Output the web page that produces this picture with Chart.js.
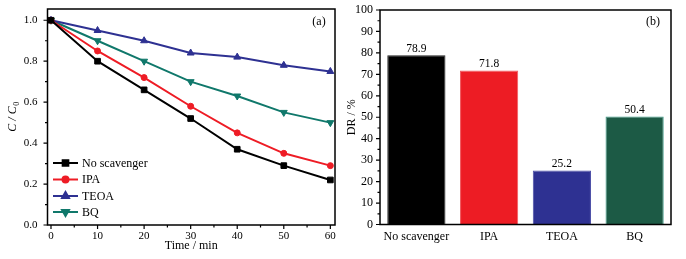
<!DOCTYPE html>
<html>
<head>
<meta charset="utf-8">
<script src="https://cdn.jsdelivr.net/npm/chart.js@4.4.1/dist/chart.umd.min.js"></script>
<style>
  html, body { margin: 0; padding: 0; background: #fff; }
  #wrap { position: relative; width: 686px; height: 259px; overflow: hidden; }
  #lineChart { position: absolute; left: 0; top: 0; }
  #barChart { position: absolute; left: 343px; top: 0; }
</style>
</head>
<body>
<div id="wrap">
  <canvas id="lineChart" width="343" height="259"></canvas>
  <canvas id="barChart" width="343" height="259"></canvas>
</div>
<script>
// panel (a): C/C0 vs time
const timeMin = [0, 10, 20, 30, 40, 50, 60];
const noScavenger = [1.0, 0.80, 0.66, 0.52, 0.37, 0.29, 0.22];
const ipa = [1.0, 0.85, 0.72, 0.58, 0.45, 0.35, 0.29];
const teoa = [1.0, 0.95, 0.90, 0.84, 0.82, 0.78, 0.75];
const bq = [1.0, 0.90, 0.80, 0.70, 0.63, 0.55, 0.50];
const timeTicks = [0, 10, 20, 30, 40, 50, 60];
const timeMinor = [5, 15, 25, 35, 45, 55];
const ratioTicks = [0, 0.2, 0.4, 0.6, 0.8, 1.0];
const ratioMinor = [0.1, 0.3, 0.5, 0.7, 0.9];

// panel (b): degradation rate
const categories = ['No scavenger', 'IPA', 'TEOA', 'BQ'];
const drValues = [78.9, 71.8, 25.2, 50.4];
const drTicks = [0, 10, 20, 30, 40, 50, 60, 70, 80, 90, 100];
const drMinor = [5, 15, 25, 35, 45, 55, 65, 75, 85, 95];

const SERIF = "'Liberation Serif', 'Times New Roman', serif";
Chart.defaults.font.family = SERIF;
Chart.defaults.color = '#000';

const BLACK = '#000000';
const RED = '#ee1c25';
const BLUE = '#2e3192';
const TEAL = '#10786b';

// keep the plot box exactly where layout padding + afterFit put it
function fixWidth(w) {
    return s => { s.width = w; s.paddingTop = 0; s.paddingBottom = 0; };
}
function fixHeight(h) {
    return s => { s.height = h; s.paddingLeft = 0; s.paddingRight = 0; };
}

// frame around the plot + outward major/minor ticks on left and bottom axes
function framePlugin(xMinor, yMinor) {
    return {
        id: 'frame',
        afterDraw(chart) {
            const ctx = chart.ctx;
            const a = chart.chartArea;
            const xs = chart.scales.x;
            const ys = chart.scales.y;
            ctx.save();
            ctx.strokeStyle = '#000';
            ctx.lineWidth = 1.5;
            ctx.strokeRect(a.left, a.top, a.right - a.left, a.bottom - a.top);
            ctx.lineWidth = 1.2;
            ctx.beginPath();
            if (xMinor) {
                xs.ticks.forEach(t => {
                    const px = xs.getPixelForValue(t.value);
                    ctx.moveTo(px, a.bottom);
                    ctx.lineTo(px, a.bottom + 4);
                });
                xMinor.forEach(v => {
                    const px = xs.getPixelForValue(v);
                    ctx.moveTo(px, a.bottom);
                    ctx.lineTo(px, a.bottom + 2.5);
                });
            }
            ys.ticks.forEach(t => {
                const py = ys.getPixelForValue(t.value);
                ctx.moveTo(a.left, py);
                ctx.lineTo(a.left - 4, py);
            });
            yMinor.forEach(v => {
                const py = ys.getPixelForValue(v);
                ctx.moveTo(a.left, py);
                ctx.lineTo(a.left - 2.5, py);
            });
            ctx.stroke();
            ctx.restore();
        }
    };
}

function panelLabel(text, x, y) {
    return {
        id: 'panelLabel',
        afterDraw(chart) {
            const ctx = chart.ctx;
            ctx.save();
            ctx.font = '12px ' + SERIF;
            ctx.fillStyle = '#000';
            ctx.textAlign = 'center';
            ctx.textBaseline = 'middle';
            ctx.fillText(text, x, y);
            ctx.restore();
        }
    };
}

function drawMarker(ctx, ds, x, y) {
    ctx.fillStyle = ds.pointBackgroundColor;
    ctx.strokeStyle = ds.borderColor;
    if (Chart.helpers && Chart.helpers.drawPoint) {
        Chart.helpers.drawPoint(ctx, {
            pointStyle: ds.pointStyle,
            rotation: ds.pointRotation || 0,
            radius: ds.pointRadius,
            borderWidth: 1
        }, x, y);
    } else {
        ctx.beginPath();
        ctx.arc(x, y, ds.pointRadius, 0, Math.PI * 2);
        ctx.fill();
    }
}

// legend in lower left corner of panel (a): line + marker + name
const lineLegend = {
    id: 'lineLegend',
    afterDraw(chart) {
        const ctx = chart.ctx;
        const rows = [163, 179.5, 196, 212];
        ctx.save();
        chart.data.datasets.forEach((ds, i) => {
            const y = rows[i];
            ctx.strokeStyle = ds.borderColor;
            ctx.lineWidth = 2;
            ctx.beginPath();
            ctx.moveTo(53, y);
            ctx.lineTo(78, y);
            ctx.stroke();
            drawMarker(ctx, ds, 65.5, y);
            ctx.font = '12px ' + SERIF;
            ctx.fillStyle = '#000';
            ctx.textAlign = 'left';
            ctx.textBaseline = 'middle';
            ctx.fillText(ds.label, 82, y + 0.5);
        });
        ctx.restore();
    }
};

// y title "C / C0" with subscript
const ratioTitle = {
    id: 'ratioTitle',
    afterDraw(chart) {
        const ctx = chart.ctx;
        const a = chart.chartArea;
        ctx.save();
        ctx.translate(13, (a.top + a.bottom) / 2);
        ctx.rotate(-Math.PI / 2);
        ctx.fillStyle = '#000';
        ctx.textBaseline = 'middle';
        ctx.font = 'italic 12px ' + SERIF;
        const main = 'C / C';
        const w = ctx.measureText(main).width;
        ctx.font = 'italic 8px ' + SERIF;
        const ws = ctx.measureText('0').width;
        const x0 = -(w + ws) / 2;
        ctx.font = 'italic 12px ' + SERIF;
        ctx.textAlign = 'left';
        ctx.fillText(main, x0, 0);
        ctx.font = '8px ' + SERIF;
        ctx.fillText('0', x0 + w + 0.5, 3.5);
        ctx.restore();
    }
};

function makeSeries(label, data, color, style, radius, rotation) {
    return {
        label: label,
        data: data.map((v, i) => ({ x: timeMin[i], y: v })),
        borderColor: color,
        backgroundColor: color,
        pointBackgroundColor: color,
        pointBorderColor: color,
        pointStyle: style,
        pointRadius: radius,
        pointRotation: rotation,
        pointBorderWidth: 1,
        borderWidth: 2,
        tension: 0
    };
}

new Chart(document.getElementById('lineChart').getContext('2d'), {
    type: 'line',
    data: {
        datasets: [
            makeSeries('No scavenger', noScavenger, BLACK, 'rect', 4, 0),
            makeSeries('IPA', ipa, RED, 'circle', 3, 0),
            makeSeries('TEOA', teoa, BLUE, 'triangle', 4, 0),
            makeSeries('BQ', bq, TEAL, 'triangle', 4, 180)
        ]
    },
    options: {
        responsive: false,
        animation: false,
        layout: { padding: { left: 0, top: 9, right: 8, bottom: 0 } },
        plugins: { legend: { display: false }, tooltip: { enabled: false } },
        scales: {
            x: {
                type: 'linear',
                min: -0.75,
                max: 61,
                afterBuildTicks: s => { s.ticks = timeTicks.map(v => ({ value: v })); },
                afterFit: fixHeight(34),
                grid: { display: false, drawTicks: false },
                border: { display: false },
                ticks: { padding: 5, font: { size: 11 }, maxRotation: 0, autoSkip: false },
                title: { display: true, text: 'Time / min', font: { size: 12 }, padding: { top: 2, bottom: 6 } }
            },
            y: {
                min: 0,
                max: 1.055,
                afterBuildTicks: s => { s.ticks = ratioTicks.map(v => ({ value: v })); },
                afterFit: fixWidth(47.5),
                grid: { display: false, drawTicks: false },
                border: { display: false },
                ticks: { padding: 10, font: { size: 11 }, callback: v => v.toFixed(1) }
            }
        }
    },
    plugins: [framePlugin(timeMinor, ratioMinor), lineLegend, ratioTitle, panelLabel('(a)', 319, 22)]
});

// value labels above the bars
const barValues = {
    id: 'barValues',
    afterDatasetsDraw(chart) {
        const ctx = chart.ctx;
        const meta = chart.getDatasetMeta(0);
        ctx.save();
        ctx.font = '11.5px ' + SERIF;
        ctx.fillStyle = '#000';
        ctx.textAlign = 'center';
        ctx.textBaseline = 'bottom';
        meta.data.forEach((bar, i) => {
            ctx.fillText(drValues[i].toFixed(1), bar.x, bar.y - 1);
        });
        ctx.restore();
    }
};

new Chart(document.getElementById('barChart').getContext('2d'), {
    type: 'bar',
    data: {
        labels: categories,
        datasets: [{
            label: 'DR',
            data: drValues,
            backgroundColor: [BLACK, '#ed1c24', '#2e3192', '#1c5a45'],
            borderColor: ['#222', '#f05a5f', '#4a4da6', '#3a9a86'],
            borderWidth: 1,
            categoryPercentage: 1,
            barPercentage: 0.8
        }]
    },
    options: {
        responsive: false,
        animation: false,
        layout: { padding: { left: 0, top: 10, right: 15, bottom: 0 } },
        plugins: { legend: { display: false }, tooltip: { enabled: false } },
        scales: {
            x: {
                afterFit: fixHeight(34.5),
                grid: { display: false, drawTicks: false },
                border: { display: false },
                ticks: { padding: 5, font: { size: 12 }, maxRotation: 0, autoSkip: false }
            },
            y: {
                min: 0,
                max: 100,
                afterBuildTicks: s => { s.ticks = drTicks.map(v => ({ value: v })); },
                afterFit: fixWidth(37),
                grid: { display: false, drawTicks: false },
                border: { display: false },
                ticks: { padding: 7, font: { size: 12 } },
                title: { display: true, text: 'DR / %', font: { size: 12 }, padding: { top: 2, bottom: 0 } }
            }
        }
    },
    plugins: [framePlugin(null, drMinor), barValues, panelLabel('(b)', 310, 22)]
});
</script>
</body>
</html>
